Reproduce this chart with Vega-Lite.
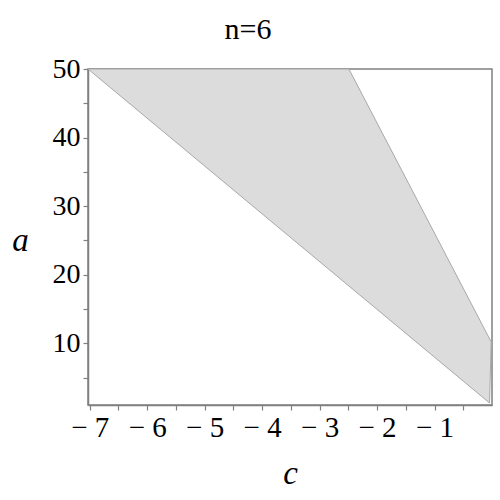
{
  "$schema": "https://vega.github.io/schema/vega-lite/v6.json",
  "autosize": "none",
  "width": 404,
  "height": 336,
  "padding": {"left": 88, "top": 69, "right": 8, "bottom": 95},
  "title": {"text": "n=6", "font": "Liberation Serif", "fontSize": 30, "fontWeight": "normal", "color": "black", "anchor": "middle", "dx": -42, "offset": 10},
  "data": {
    "values": [
      {"order": 1, "c": -7.03, "a": 50},
      {"order": 2, "c": -2.49, "a": 50},
      {"order": 3, "c": -0.014, "a": 10.2},
      {"order": 4, "c": -0.043, "a": 1.3},
      {"order": 5, "c": -7.03, "a": 50}
    ]
  },
  "mark": {"type": "line", "fill": "#dcdcdc", "stroke": "#a8a8a8", "strokeWidth": 1, "clip": true},
  "encoding": {
    "order": {"field": "order", "type": "quantitative"},
    "x": {
      "field": "c", "type": "quantitative",
      "scale": {"domain": [-7.03, 0], "nice": false, "zero": false},
      "axis": {
        "title": "c",
        "values": [-7, -6.5, -6, -5.5, -5, -4.5, -4, -3.5, -3, -2.5, -2, -1.5, -1, -0.5],
        "labelExpr": "datum.value % 1 == 0 ? '\u2212 ' + abs(datum.value) : ''",
        "labelOverlap": false,
        "labelFontSize": 29,
        "labelPadding": 3,
        "titleY": 78,
        "titleBaseline": "alphabetic"
      }
    },
    "y": {
      "field": "a", "type": "quantitative",
      "scale": {"domain": [1, 50], "nice": false, "zero": false},
      "axis": {
        "title": "a",
        "values": [5, 10, 15, 20, 25, 30, 35, 40, 45, 50],
        "labelExpr": "datum.value % 10 == 0 ? datum.label : ''",
        "labelOverlap": false,
        "labelFontSize": 28,
        "labelPadding": 3,
        "titleAngle": 0,
        "titleX": -68,
        "titleY": 181,
        "titleAlign": "center",
        "titleBaseline": "alphabetic"
      }
    }
  },
  "config": {
    "view": {"stroke": "#808080", "strokeWidth": 1.5},
    "axis": {
      "grid": false,
      "domainColor": "#808080",
      "domainWidth": 1.5,
      "tickColor": "#808080",
      "tickWidth": 1.2,
      "tickSize": 5,
      "labelFont": "Liberation Serif",
      "labelColor": "black",
      "titleFont": "Liberation Serif",
      "titleFontStyle": "italic",
      "titleFontWeight": "normal",
      "titleFontSize": 33,
      "titleColor": "black"
    }
  }
}
